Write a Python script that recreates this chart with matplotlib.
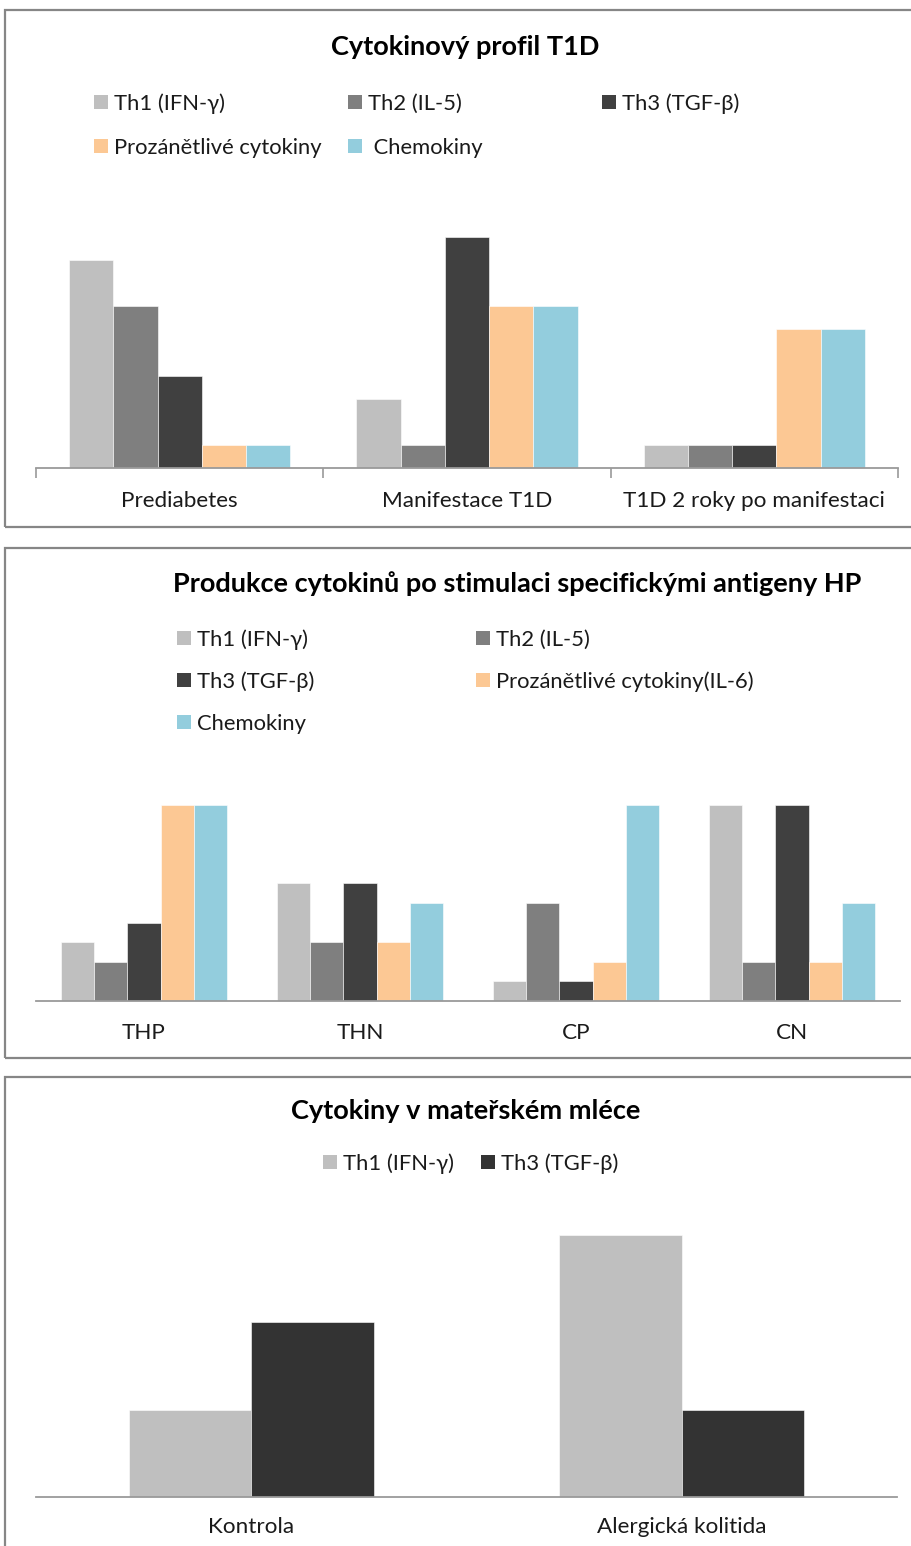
import numpy as np
import matplotlib
matplotlib.use("Agg")
import matplotlib.pyplot as plt
from matplotlib.patches import Rectangle

plt.rcParams['font.family'] = ['Lato', 'DejaVu Sans']

# --- data ---------------------------------------------------------------
t1d_cats = ['Prediabetes', 'Manifestace T1D', 'T1D 2 roky po manifestaci']
t1d_th1 = [9, 3, 1]
t1d_th2 = [7, 1, 1]
t1d_th3 = [4, 10, 1]
t1d_pro = [1, 7, 6]
t1d_chem = [1, 7, 6]
t1d_labels = ['Th1 (IFN-γ)', 'Th2 (IL-5)', 'Th3 (TGF-β)',
              'Prozánětlivé cytokiny', 'Chemokiny']

hp_cats = ['THP', 'THN', 'CP', 'CN']
hp_th1 = [3, 6, 1, 10]
hp_th2 = [2, 3, 5, 2]
hp_th3 = [4, 6, 1, 10]
hp_pro = [10, 3, 2, 2]
hp_chem = [10, 5, 10, 5]
hp_labels = ['Th1 (IFN-γ)', 'Th2 (IL-5)', 'Th3 (TGF-β)',
             'Prozánětlivé cytokiny(IL-6)', 'Chemokiny']

milk_cats = ['Kontrola', 'Alergická kolitida']
milk_th1 = [1, 3]
milk_th3 = [2, 1]
milk_labels = ['Th1 (IFN-γ)', 'Th3 (TGF-β)']

colors5 = ['#bfbfbf', '#7f7f7f', '#404040', '#fcc894', '#93cddd']
colors2 = ['#bfbfbf', '#333333']
frame_col = '#868686'
axis_col = '#9a9a9a'

W, H = 912, 1546
fig = plt.figure(figsize=(W / 100, H / 100), dpi=100)


# helpers working in pixel coordinates of the picture (y from top)
def px_axes(x0, x1, ytop, ybase):
    return fig.add_axes([x0 / W, 1 - ybase / H, (x1 - x0) / W, (ybase - ytop) / H])


def frame(x0, y0, x1, y1):
    fig.patches.append(Rectangle((x0 / W, 1 - y1 / H), (x1 - x0) / W, (y1 - y0) / H,
                                 transform=fig.transFigure, fill=False,
                                 ec=frame_col, lw=1.6))


def legend_item(x, y, color, label):
    s = 14
    fig.patches.append(Rectangle((x / W, 1 - (y + s / 2) / H), s / W, s / H,
                                 transform=fig.transFigure, fc=color, ec='none'))
    fig.text((x + s + 6) / W, 1 - (y + 1.5) / H, label, fontsize=15.8, va='center',
             ha='left', color='#1a1a1a')


def title(x, y, txt):
    fig.text(x / W, 1 - y / H, txt, fontsize=19.5, fontweight='bold',
             ha='center', va='center', color='black')


def style(ax, n, ymax, ticks, pad):
    ax.set_xlim(-0.5, n - 0.5)
    ax.set_ylim(0, ymax)
    for s in ['top', 'right', 'left']:
        ax.spines[s].set_visible(False)
    ax.spines['bottom'].set_color(axis_col)
    ax.spines['bottom'].set_linewidth(1.3)
    ax.set_yticks([])
    ax.set_xticks(np.arange(n))
    ax.tick_params(axis='x', length=0, labelsize=16.2, pad=pad, colors='#1a1a1a')
    if ticks:
        ax.set_xticks(np.arange(n + 1) - 0.5, minor=True)
        ax.tick_params(axis='x', which='minor', length=7, width=1.2,
                       color=axis_col, direction='out')
    ax.patch.set_alpha(0)


# --- panel 1 -------------------------------------------------------------
frame(5, 10, 918, 527)
title(465, 47, 'Cytokinový profil T1D')
ax1 = px_axes(36, 898, 200, 468)
series1 = [t1d_th1, t1d_th2, t1d_th3, t1d_pro, t1d_chem]
x = np.arange(len(t1d_cats))
w = 0.154
for i, (vals, c) in enumerate(zip(series1, colors5)):
    ax1.bar(x + (i - 2) * w, vals, w, color=c, edgecolor='white', linewidth=0.4)
style(ax1, len(t1d_cats), (468 - 200) / 23.1, True, 16.5)
ax1.set_xticklabels(t1d_cats)
leg1 = [(94, 102), (348, 102), (602, 102), (94, 146), (348, 146)]
for (lx, ly), c, lab in zip(leg1, colors5, t1d_labels):
    if lab == 'Chemokiny':
        lab = ' ' + lab
    legend_item(lx, ly, c, lab)

# --- panel 2 -------------------------------------------------------------
frame(5, 548, 918, 1058)
title(517, 584, 'Produkce cytokinů po stimulaci specifickými antigeny HP')
ax2 = px_axes(36, 900, 760, 1001)
series2 = [hp_th1, hp_th2, hp_th3, hp_pro, hp_chem]
x = np.arange(len(hp_cats))
for i, (vals, c) in enumerate(zip(series2, colors5)):
    ax2.bar(x + (i - 2) * w, vals, w, color=c, edgecolor='white', linewidth=0.4)
style(ax2, len(hp_cats), (1001 - 760) / 19.6, False, 16)
ax2.set_xticklabels(hp_cats)
leg2 = [(177, 638), (476, 638), (177, 680), (476, 680), (177, 722)]
for (lx, ly), c, lab in zip(leg2, colors5, hp_labels):
    legend_item(lx, ly, c, lab)

# --- panel 3 -------------------------------------------------------------
frame(5, 1077, 918, 1560)
title(466, 1111, 'Cytokiny v mateřském mléce')
ax3 = px_axes(36, 897, 1200, 1497)
x = np.arange(len(milk_cats))
w3 = 0.285
for i, (vals, c) in enumerate(zip([milk_th1, milk_th3], colors2)):
    ax3.bar(x + (i - 0.5) * w3, vals, w3, color=c, edgecolor='white', linewidth=0.4)
style(ax3, len(milk_cats), (1497 - 1200) / 87.3, False, 14.5)
ax3.set_xticklabels(milk_cats)
leg3 = [(323, 1162), (481, 1162)]
for (lx, ly), c, lab in zip(leg3, colors2, milk_labels):
    legend_item(lx, ly, c, lab)

fig.savefig('out.png', dpi=100, facecolor='white')
